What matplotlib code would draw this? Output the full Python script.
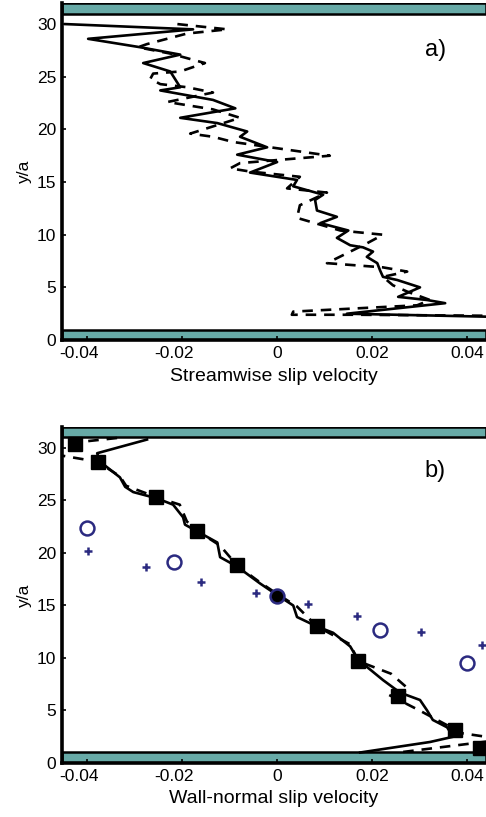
import matplotlib
matplotlib.use("Agg")
import matplotlib.pyplot as plt
import matplotlib.transforms as mtransforms
import numpy as np

plt.rcParams['font.family'] = ['Liberation Sans', 'DejaVu Sans']
plt.rcParams['axes.unicode_minus'] = False

# panel a) streamwise slip velocity profiles
a_solid_u = [-0.0446, -0.0177, -0.0398, -0.0288, -0.0204, -0.0282, -0.0225, -0.0204, -0.0246,
             -0.0135, -0.0088, -0.0204, -0.0126, -0.0063, -0.0078, -0.0021, -0.0084, 0.0,
             -0.0057, 0.0042, 0.0034, 0.0097, 0.0080, 0.0084, 0.0126, 0.0091, 0.0150, 0.0126,
             0.0154, 0.0181, 0.0202, 0.0189, 0.0211, 0.0217, 0.0223, 0.0253, 0.0301, 0.0255,
             0.0316, 0.0354, 0.0147, 0.0460]
a_solid_y = [30.0, 29.5, 28.6, 27.8, 27.1, 26.3, 25.5, 24.0, 23.7,
             22.8, 22.0, 21.1, 20.6, 19.8, 19.3, 18.3, 17.6, 16.9,
             15.9, 15.2, 14.6, 13.8, 13.3, 12.3, 11.7, 11.1, 10.4, 9.7,
             9.0, 8.8, 8.4, 7.9, 7.3, 6.6, 6.0, 5.7, 5.0, 4.1,
             3.8, 3.5, 2.5, 2.2]
a_dash_u = [-0.0210, -0.0105, -0.0190, -0.0274, -0.0293, -0.0225, -0.0152, -0.0204, -0.0261,
            -0.0267, -0.0246, -0.0189, -0.0135, -0.0231, -0.0135, -0.0078, -0.0183, -0.0135,
            -0.0092, 0.0111, -0.0078, -0.0099, -0.0057, 0.0048, 0.0021, 0.0105, 0.0048,
            0.0042, 0.0133, 0.0223, 0.0190, 0.0105, 0.0223, 0.0274, 0.0223, 0.0244, 0.0274,
            0.0322, 0.0295, 0.0034, 0.0031, 0.0168, 0.0460]
a_dash_y = [30.0, 29.5, 29.1, 28.1, 27.8, 27.2, 26.3, 25.5, 25.3,
            24.8, 24.3, 24.0, 23.5, 22.6, 21.9, 21.1, 19.6, 19.3,
            18.8, 17.5, 16.8, 16.3, 16.0, 15.5, 14.4, 14.0, 12.8,
            11.6, 10.4, 10.0, 9.2, 7.3, 6.9, 6.5, 6.0, 5.2, 4.6,
            3.8, 3.3, 2.7, 2.4, 2.4, 2.3]

# panel b) wall-normal slip velocity profiles
b_solid_v = [-0.0274, -0.0379, -0.0373, -0.0331, -0.0320, -0.0303, -0.0253, -0.0219, -0.0198,
             -0.0194, -0.0162, -0.0126, -0.0120, -0.0084, -0.0036, 0.0, 0.0034, 0.0042,
             0.0084, 0.0118, 0.0154, 0.0171, 0.0196, 0.0223, 0.0259, 0.0301, 0.0316, 0.0328,
             0.0358, 0.0371, 0.0322, 0.0175]
b_solid_y = [30.8, 29.5, 28.7, 27.2, 26.3, 25.8, 25.2, 24.6, 23.4,
             22.7, 21.9, 21.0, 19.6, 18.7, 17.1, 16.0, 15.0, 13.9,
             13.0, 12.4, 11.1, 9.8, 8.9, 7.9, 6.7, 6.0, 5.0, 4.1,
             3.4, 2.5, 2.0, 1.0]
b_dash_v = [-0.0337, -0.0430, -0.0470, -0.0470, -0.0379, -0.0331, -0.0318, -0.0253, -0.0205,
            -0.0190, -0.0168, -0.0120, -0.0084, -0.0036, 0.0, 0.0042, 0.0084, 0.0154,
            0.0171, 0.0240, 0.0278, 0.0235, 0.0300, 0.0358, 0.0379, 0.0470, 0.0470, 0.0265]
b_dash_y = [30.95, 30.5, 30.3, 29.4, 28.7, 27.3, 26.4, 25.3, 24.6,
            23.0, 22.1, 20.7, 18.8, 17.2, 16.1, 14.9, 13.0, 11.3,
            9.7, 8.5, 7.0, 6.5, 5.0, 3.6, 2.9, 2.3, 2.2, 1.05]

sq_v = [-0.0425, -0.0377, -0.0255, -0.0168, -0.0084, 0.0084, 0.0171, 0.0255, 0.0375, 0.0427]
sq_y = [30.4, 28.7, 25.3, 22.1, 18.9, 13.0, 9.7, 6.4, 3.1, 1.4]
circ_v = [-0.0400, -0.0217, 0.0217, 0.0400]
circ_y = [22.4, 19.1, 12.7, 9.5]
dot_v = [0.0]
dot_y = [15.9]
plus_v = [-0.0398, -0.0276, -0.0160, -0.0044, 0.0065, 0.0168, 0.0303, 0.0432]
plus_y = [20.2, 18.7, 17.2, 16.2, 15.1, 14.0, 12.5, 11.2]

xticks = [-0.04, -0.02, 0, 0.02, 0.04]
xticklabels = ['-0.04', '-0.02', '0', '0.02', '0.04']
yticks = [0, 5, 10, 15, 20, 25, 30]

teal = '#67aaa7'
navy = '#2b2a80'

fig = plt.figure(figsize=(4.86, 8.17), dpi=100)
ax1 = fig.add_axes([0.1276, 0.5838, 0.8724, 0.4125])
ax2 = fig.add_axes([0.1276, 0.0661, 0.8724, 0.4113])

# negative labels sit a little to the left in the original
shift = mtransforms.ScaledTranslation(-8 / 100, 0, fig.dpi_scale_trans)

for ax in (ax1, ax2):
    ax.axhspan(0, 1, facecolor=teal, edgecolor='k', lw=1.8, zorder=1)
    ax.axhspan(31, 32, facecolor=teal, edgecolor='k', lw=1.8, zorder=1)
    ax.set_xlim(-0.0453, 0.044)
    ax.set_ylim(0, 32)
    ax.set_xticks(xticks)
    ax.set_xticklabels(xticklabels)
    ax.set_yticks(yticks)
    ax.tick_params(direction='in', labelsize=12.5, length=3, width=1.2, pad=4)
    for lab in ax.get_xticklabels():
        if lab.get_text().startswith('-'):
            lab.set_transform(lab.get_transform() + shift)
    ax.spines['top'].set_visible(False)
    ax.spines['right'].set_visible(False)
    ax.spines['left'].set_linewidth(2.6)
    ax.spines['bottom'].set_linewidth(2.6)
    ax.set_ylabel('y/a', fontsize=12.5)
    ax.yaxis.set_label_coords(-0.07, 0.5)

ax1.plot(a_solid_u, a_solid_y, 'k-', lw=1.9, zorder=3)
ax1.plot(a_dash_u, a_dash_y, 'k--', lw=1.9, dashes=(4, 3), zorder=3)
ax1.set_xlabel('Streamwise slip velocity', fontsize=14, labelpad=5)
ax1.text(0.0333, 27.5, 'a)', fontsize=17, ha='center', va='center')

ax2.plot(b_solid_v, b_solid_y, 'k-', lw=1.9, zorder=3)
ax2.plot(b_dash_v, b_dash_y, 'k--', lw=1.9, dashes=(4, 3), zorder=3)
ax2.plot(sq_v, sq_y, 's', color='k', ms=10, zorder=4)
ax2.plot(circ_v, circ_y, 'o', mfc='none', mec=navy, mew=1.8, ms=10, zorder=4)
ax2.plot(dot_v, dot_y, 'o', mfc='k', mec=navy, mew=1.8, ms=10, zorder=4)
ax2.plot(plus_v, plus_y, '+', color=navy, mew=1.8, ms=6, zorder=4)
ax2.set_xlabel('Wall-normal slip velocity', fontsize=14, labelpad=5)
ax2.text(0.0333, 27.8, 'b)', fontsize=17, ha='center', va='center')

fig.savefig('out.png', dpi=100)
